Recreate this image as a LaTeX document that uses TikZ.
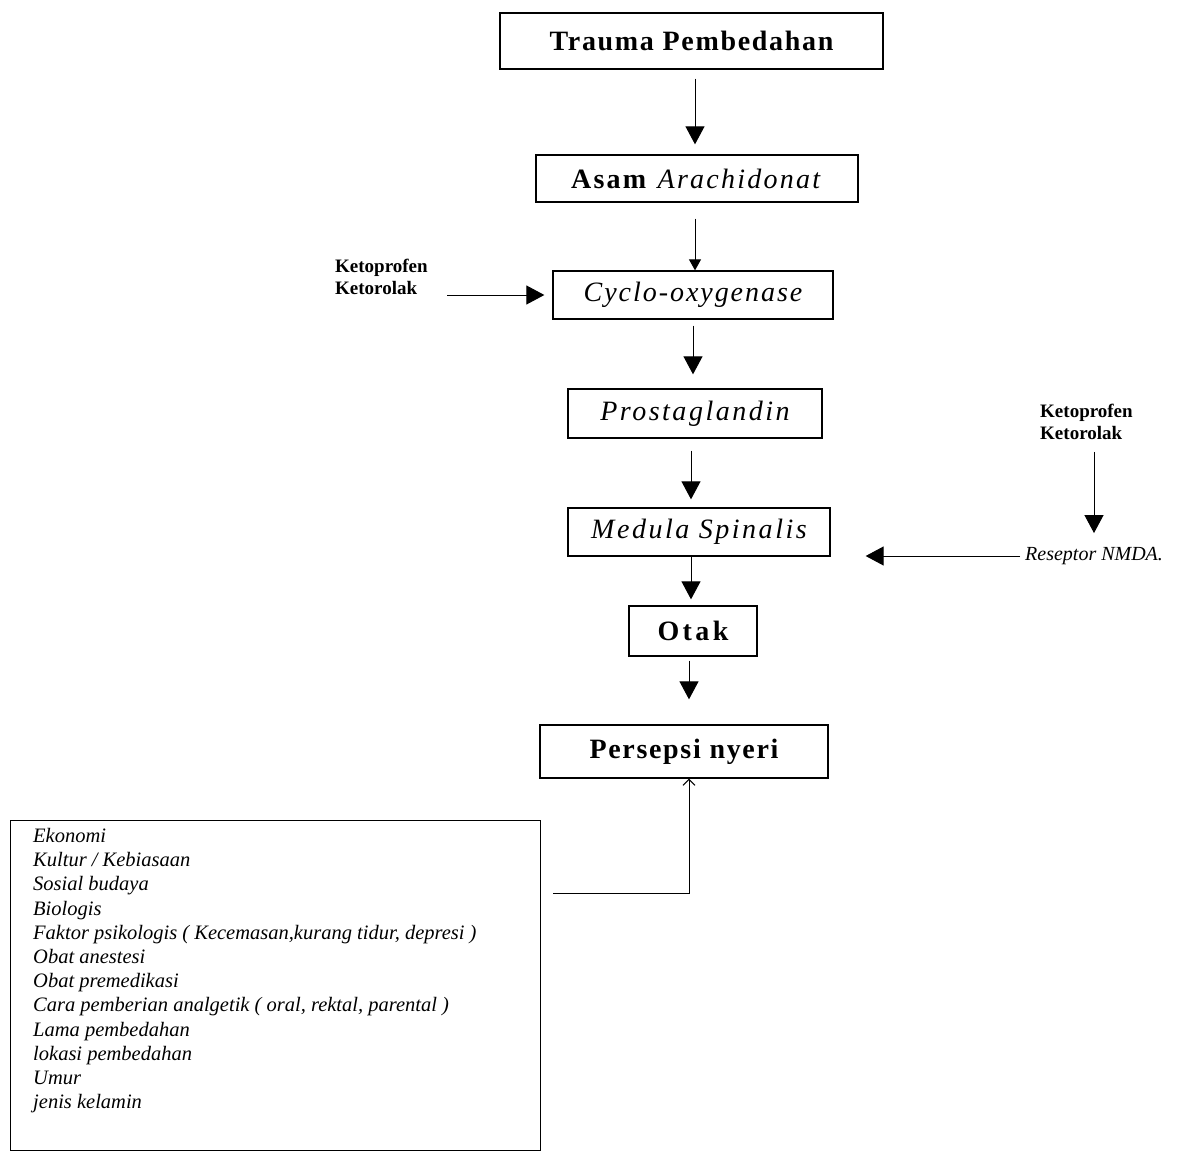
\documentclass[tikz,border=0pt]{standalone}
\usepackage{fontspec}
\setmainfont{Liberation Serif}
\usetikzlibrary{arrows.meta,calc}
\tikzset{
  box/.style={draw, line width=1.3pt, inner sep=0pt},
  arr/.style={line width=1pt, -{Triangle[length=18pt,width=19pt]}},
  arrs/.style={line width=1pt, -{Triangle[length=11pt,width=12pt]}},
  lbl/.style={inner sep=0pt, font=\bfseries\fontsize{19}{22}\selectfont, align=left},
}
% box text: size and letter spacing
\newcommand\boxfont[1]{\fontsize{28}{28}\selectfont\addfontfeatures{LetterSpace=#1}}
\begin{document}
\begin{tikzpicture}[x=1pt,y=-1pt]
\useasboundingbox (0,0) rectangle (1179,1156);

% main chain
\node[box, minimum width=383pt, minimum height=56pt] (trauma) at (691.5,41)
  {\bfseries\boxfont{6}Trauma Pembedahan};
\node[box, minimum width=322pt, minimum height=47pt] (asam) at (697,178.5)
  {\boxfont{8}\textbf{Asam} \textit{Arachidonat}};
\node[box, minimum width=280pt, minimum height=48pt] (cox) at (693,295)
  {\itshape\boxfont{7}Cyclo-oxygenase};
\node[box, minimum width=254pt, minimum height=49pt] (pg) at (695,413.5)
  {\itshape\boxfont{9}Prostaglandin};
\node[box, minimum width=262pt, minimum height=48pt] (ms) at (699,532)
  {\itshape\boxfont{9}Medula Spinalis};
\node[box, minimum width=128pt, minimum height=50pt] (otak) at (693,631)
  {\bfseries\boxfont{12}Otak};
\node[box, minimum width=288pt, minimum height=53pt] (nyeri) at (684,751.5)
  {\bfseries\boxfont{6}Persepsi nyeri};

% vertical axes of the main arrows
\coordinate (ax1) at (695,0);
\coordinate (ax2) at (693,0);
\coordinate (ax3) at (691,0);
\coordinate (ax4) at (689,0);

\draw[arr]  (ax1 |- trauma.south) ++(0,9) -- ($(ax1 |- asam.north)+(0,-10)$);
\draw[arrs] (ax1 |- asam.south) ++(0,16) -- (ax1 |- cox.north);
\draw[arr]  (ax2 |- cox.south) ++(0,6) -- ($(ax2 |- pg.north)+(0,-14)$);
\draw[arr]  (ax3 |- pg.south) ++(0,12) -- ($(ax3 |- ms.north)+(0,-8)$);
\draw[arr]  (ax3 |- ms.south) -- ($(ax3 |- otak.north)+(0,-6)$);
\draw[arr]  (ax4 |- otak.south) ++(0,4) -- ($(ax4 |- nyeri.north)+(0,-25)$);

% inhibitors of cyclo-oxygenase
\node[lbl, anchor=north west] (ketoL) at (335,259) {Ketoprofen\\Ketorolak};
\coordinate (kL) at (447,0);
\draw[arr] (kL |- cox.west) -- ($(cox.west)+(-8,0)$);

% inhibitors acting on the NMDA receptor
\node[lbl, anchor=north west] (ketoR) at (1040,404) {Ketoprofen\\Ketorolak};
\node[inner sep=0pt, anchor=west, font=\itshape\fontsize{20}{20}\selectfont] (nmda) at (1025,556) {Reseptor NMDA.};
\coordinate (kR) at (1094,0);
\draw[arr] (kR |- ketoR.south) ++(0,12) -- ($(kR |- nmda.north)+(0,-14)$);
\draw[arr] ($(nmda.west)+(-5,0)$) -- ($(ms.east |- nmda.west)+(35,0)$);

% influencing factors
\node[draw, line width=1pt, minimum width=530pt, minimum height=330pt, anchor=north west] (faktor) at (10,820) {};
\node[inner sep=0pt, anchor=north west, align=left,
      font=\itshape\fontsize{20.5}{24.2}\selectfont] (list) at (33,828)
  {Ekonomi\\
   Kultur / Kebiasaan\\
   Sosial budaya\\
   Biologis\\
   Faktor psikologis ( Kecemasan,kurang tidur, depresi )\\
   Obat anestesi\\
   Obat premedikasi\\
   Cara pemberian analgetik ( oral, rektal, parental )\\
   Lama pembedahan\\
   lokasi pembedahan\\
   Umur\\
   jenis kelamin};
\coordinate (fb) at (553,893);
\draw[line width=1pt, -{Straight Barb[length=6pt,width=12pt]}]
  (fb) -- (ax4 |- fb) -- (ax4 |- nyeri.south);
\end{tikzpicture}
\end{document}
